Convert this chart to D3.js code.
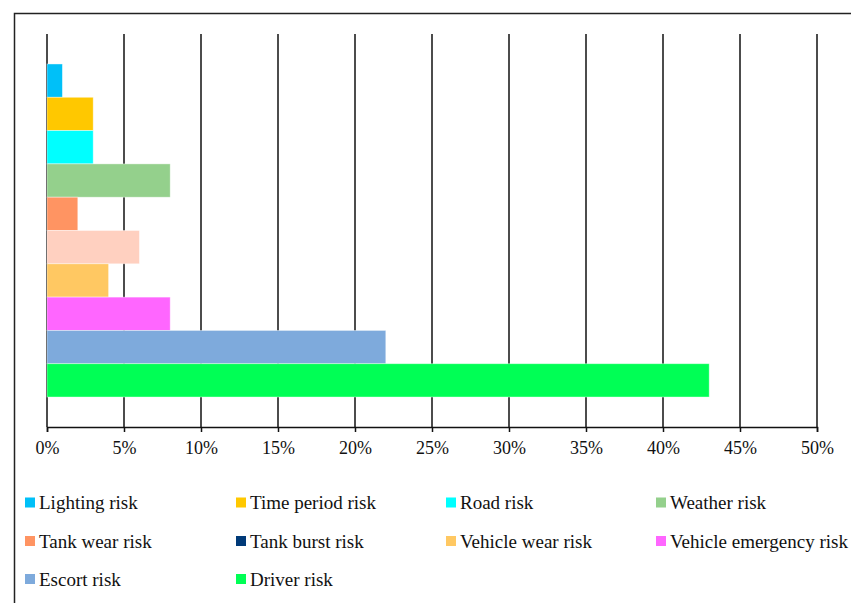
<!DOCTYPE html>
<html>
<head>
<meta charset="utf-8">
<script src="https://cdn.jsdelivr.net/npm/d3@7"></script>
<style>
  body { margin: 0; background: #fff; }
  svg { display: block; }
</style>
</head>
<body>
<svg id="chart" width="851" height="603"></svg>
<script>
// risk categories, top to bottom
const categories = ['Lighting risk', 'Time period risk', 'Road risk', 'Weather risk', 'Tank wear risk',
  'Tank burst risk', 'Vehicle wear risk', 'Vehicle emergency risk', 'Escort risk', 'Driver risk'];
const values = [1, 3, 3, 8, 2, 6, 4, 8, 22, 43];
const ticks = [0, 5, 10, 15, 20, 25, 30, 35, 40, 45, 50];

// bar fill vs legend swatch (the burst bar is drawn peach in the original, swatch is navy)
const barColors = ['#00c0f8', '#ffc800', '#00ffff', '#94d08c', '#ff9462', '#ffd0c0', '#ffc862', '#ff66ff', '#7eaadc', '#00ff55'];
const legendColors = ['#00c0f8', '#ffc800', '#00ffff', '#94d08c', '#ff9462', '#003a78', '#ffc862', '#ff66ff', '#7eaadc', '#00ff55'];

const serif = "'Liberation Serif', 'Times New Roman', 'DejaVu Serif', serif";
const svg = d3.select('#chart');

// outer frame
svg.append('path')
  .attr('d', 'M14.5,603 V13.5 H851')
  .attr('fill', 'none')
  .attr('stroke', '#222')
  .attr('stroke-width', 1.5);

const x = d3.scaleLinear().domain([0, 50]).range([47, 817]);
const y = d3.scaleBand().domain(categories).range([34, 427]).paddingInner(0).paddingOuter(0.9);

// vertical gridlines
svg.append('g')
  .selectAll('line')
  .data(ticks)
  .enter()
  .append('line')
  .attr('x1', d => x(d)).attr('x2', d => x(d))
  .attr('y1', 34).attr('y2', 427)
  .attr('stroke', '#111')
  .attr('stroke-width', 1.5);

// bars
svg.append('g')
  .selectAll('rect')
  .data(categories)
  .enter()
  .append('rect')
  .attr('x', x(0))
  .attr('y', d => y(d))
  .attr('width', (d, i) => x(values[i]) - x(0))
  .attr('height', y.bandwidth())
  .attr('fill', (d, i) => barColors[i])
  .attr('stroke', '#fff')
  .attr('stroke-opacity', 0.5)
  .attr('stroke-width', 0.8);

// x axis
const axis = svg.append('g')
  .attr('transform', 'translate(0,427)')
  .call(d3.axisBottom(x).tickValues(ticks).tickSize(5).tickPadding(9).tickFormat(d => d + '%'))
  .attr('font-family', serif)
  .attr('font-size', 18);
axis.select('.domain').attr('stroke', '#111').attr('stroke-width', 1.5);
axis.selectAll('.tick line').attr('stroke', '#111').attr('stroke-width', 1.5);
axis.selectAll('.tick text').attr('fill', '#111');

// legend, 4 columns
const colX = [25, 236, 446, 656];
const rowY = [502.5, 541, 579];
const legend = svg.append('g')
  .attr('font-family', serif)
  .attr('font-size', 19)
  .selectAll('g')
  .data(categories)
  .enter()
  .append('g')
  .attr('transform', (d, i) => 'translate(' + colX[i % 4] + ',' + rowY[Math.floor(i / 4)] + ')');

legend.append('rect')
  .attr('x', 0).attr('y', -5)
  .attr('width', 10).attr('height', 10)
  .attr('fill', (d, i) => legendColors[i]);

legend.append('text')
  .attr('x', 14)
  .attr('dy', '0.35em')
  .attr('fill', '#111')
  .text(d => d);
</script>
</body>
</html>
